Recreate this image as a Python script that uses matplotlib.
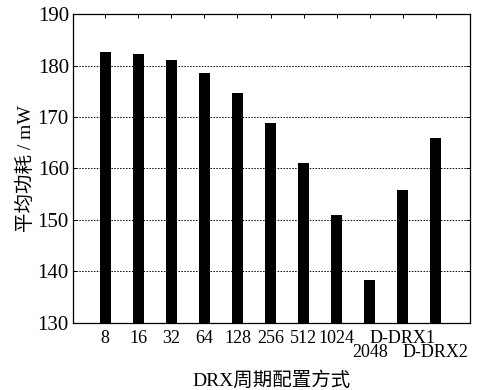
import matplotlib
matplotlib.use("Agg")
import matplotlib.pyplot as plt
import matplotlib.transforms as mtransforms
import numpy as np

categories = ["8", "16", "32", "64", "128", "256", "512", "1024", "2048", "D-DRX1", "D-DRX2"]
power_mw = [182.6, 182.2, 181.1, 178.6, 174.7, 168.9, 161.0, 150.9, 138.4, 155.8, 166.0]
yticks = [130, 140, 150, 160, 170, 180, 190]
lower_row = (8, 10)

fam = ["Liberation Serif", "Noto Sans CJK SC"]
plt.rcParams["font.family"] = fam

fig = plt.figure(figsize=(4.84, 3.90), dpi=100)
ax = fig.add_axes([0.151, 0.172, 0.820, 0.792])

x = np.arange(len(categories))
ax.bar(x, [v - 130 for v in power_mw], bottom=130, width=0.33, color="black", zorder=3)

ax.set_xlim(-0.97, len(categories) - 1 + 1.03)
ax.set_ylim(130, 190)
ax.set_yticks(yticks)
ax.set_yticklabels([str(t) for t in yticks], fontsize=15)

ax.set_xticks(x)
ax.set_xticklabels(["" if i in lower_row else c for i, c in enumerate(categories)], fontsize=13)
trans = mtransforms.blended_transform_factory(ax.transData, ax.transAxes) + \
    mtransforms.ScaledTranslation(0, -21 / 100, fig.dpi_scale_trans)
for i in lower_row:
    ax.text(x[i], 0, categories[i], transform=trans, ha="center", va="top", fontsize=13)

for t in yticks[1:-1]:
    ax.axhline(t, color="black", linestyle=(0, (1.5, 1.5)), linewidth=0.7, zorder=1)

ax.tick_params(axis="both", direction="in", top=True, right=True, length=3, width=0.7)
ax.tick_params(axis="y", pad=3)
ax.tick_params(axis="x", pad=5)
for s in ax.spines.values():
    s.set_linewidth(0.9)

ax.text(0.5, -0.155, "DRX周期配置方式", transform=ax.transAxes, ha="center", va="top", fontsize=14)
ax.set_ylabel("平均功耗 / mW", fontsize=14, labelpad=2)

fig.savefig("out.png", dpi=100)
